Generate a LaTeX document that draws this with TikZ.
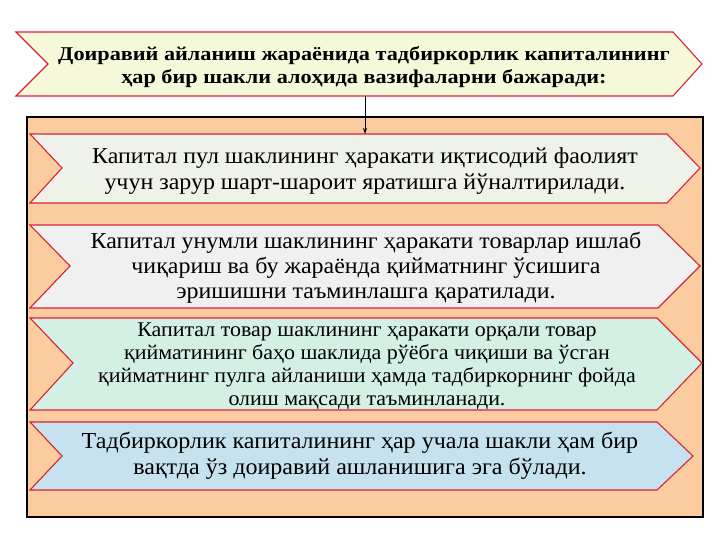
\documentclass[tikz,border=0pt]{standalone}
\usepackage{fontspec}
\setmainfont{Liberation Serif}
\newfontfamily\titlefont[FakeStretch=1.14]{Liberation Serif}
\newfontfamily\bodyfont[FakeStretch=1.05]{Liberation Serif}
\usetikzlibrary{arrows.meta}
\definecolor{peach}{RGB}{250,204,160}
\definecolor{chevred}{RGB}{215,35,55}
\definecolor{titlefill}{RGB}{246,248,218}
\definecolor{fillA}{RGB}{238,242,232}
\definecolor{fillB}{RGB}{240,240,240}
\definecolor{fillC}{RGB}{212,240,228}
\definecolor{fillD}{RGB}{198,226,238}
\tikzset{
  chev/.style={draw=chevred, line width=1.1pt, line join=miter},
  bodytext/.style={align=center, inner sep=0pt, text=black},
}
\begin{document}
\begin{tikzpicture}[x=1pt,y=-1pt]
\useasboundingbox (0,0) rectangle (720,540);
\fill[white] (0,0) rectangle (720,540);
% title chevron
\filldraw[chev, fill=titlefill] (16,32) -- (673,32) -- (702,64) -- (673,96) -- (16,96) -- (48,64) -- cycle;
\node[bodytext, font=\titlefont\fontsize{19.5}{23}\selectfont\bfseries] (title) at (364,67)
  {Доиравий айланиш жараёнида тадбиркорлик капиталининг\\ ҳар бир шакли алоҳида вазифаларни бажаради:};
\coordinate (tb) at (365,96);
% big box
\filldraw[fill=peach, draw=black, line width=2pt] (27,117) rectangle (703,517);
% chevrons
\filldraw[chev, fill=fillA] (30,134) -- (667,134) -- (700,168) -- (667,203) -- (30,203) -- (62,168) -- cycle;
\coordinate (c1) at (365,134);
\node[bodytext, font=\bodyfont\fontsize{22.8}{26.5}\selectfont] (t1) at (365,171)
  {Капитал пул шаклининг ҳаракати иқтисодий фаолият\\ учун зарур шарт-шароит яратишга йўналтирилади.};
\filldraw[chev, fill=fillB] (30,225) -- (658,225) -- (700,266) -- (658,308) -- (30,308) -- (70,266) -- cycle;
\node[bodytext, font=\bodyfont\fontsize{22.8}{25}\selectfont] (t2) at (366,268)
  {Капитал унумли шаклининг ҳаракати товарлар ишлаб\\ чиқариш ва бу жараёнда қийматнинг ўсишига\\ эришишни таъминлашга қаратилади.};
\filldraw[chev, fill=fillC] (30,318) -- (657,318) -- (702,363) -- (657,410) -- (30,410) -- (73,363) -- cycle;
\node[bodytext, font=\bodyfont\fontsize{20.9}{23}\selectfont] (t3) at (367,366)
  {Капитал товар шаклининг ҳаракати орқали товар\\ қийматининг баҳо шаклида рўёбга чиқиши ва ўсган\\ қийматнинг пулга айланиши ҳамда тадбиркорнинг фойда\\ олиш мақсади таъминланади.};
\filldraw[chev, fill=fillD] (30,422) -- (657,422) -- (693,456) -- (657,490) -- (30,490) -- (62,456) -- cycle;
\node[bodytext, font=\bodyfont\fontsize{22.9}{26.5}\selectfont] (t4) at (360,456)
  {Тадбиркорлик капиталининг ҳар учала шакли ҳам бир\\ вақтда ўз доиравий ашланишига эга бўлади.};
% arrow
\draw[-{Stealth[length=6pt,width=4pt]}, line width=0.8pt] (tb) -- (c1);
\end{tikzpicture}
\end{document}
